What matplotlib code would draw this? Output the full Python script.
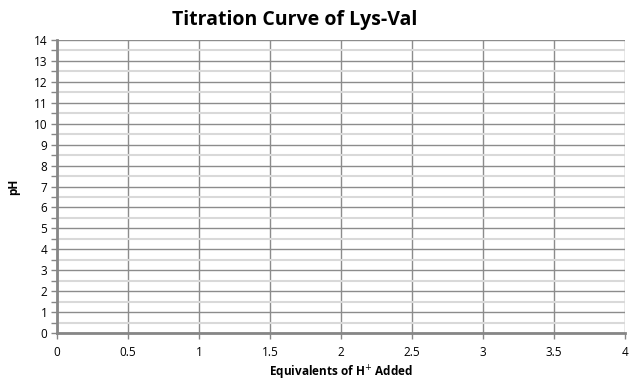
import numpy as np
import matplotlib
matplotlib.use('Agg')
import matplotlib.pyplot as plt

# Axis setup (the chart has no plotted series)
x_ticks = [0, 0.5, 1, 1.5, 2, 2.5, 3, 3.5, 4]
y_ticks = list(range(0, 15))
y_minor = [v + 0.5 for v in range(0, 14)]
x_labels = ['0', '0.5', '1', '1.5', '2', '2.5', '3', '3.5', '4']

plt.rcParams['font.family'] = ['Open Sans', 'DejaVu Sans']

fig = plt.figure(figsize=(6.39, 3.89), dpi=100)
ax = fig.add_axes([57 / 639, 56 / 389, 568 / 639, 293 / 389])

ax.set_xlim(0, 4)
ax.set_ylim(0, 14)
ax.set_xticks(x_ticks)
ax.set_xticklabels(x_labels)
ax.set_yticks(y_ticks)
ax.set_yticks(y_minor, minor=True)

# gridlines: light minor, darker major
ax.grid(which='minor', axis='y', color='#d9d9d9', linewidth=1.5)
ax.grid(which='major', axis='both', color='#8c8c8c', linewidth=1.0)
ax.set_axisbelow(True)

for s in ['top', 'right']:
    ax.spines[s].set_visible(False)
for s in ['left', 'bottom']:
    ax.spines[s].set_color('#868686')
    ax.spines[s].set_linewidth(2)

ax.tick_params(axis='both', which='major', length=4, width=1, color='#868686',
               labelsize=8.5, pad=3)
ax.tick_params(axis='y', which='minor', length=4, width=1, color='#868686')
ax.tick_params(axis='x', pad=5)

fig.text(295 / 639, 1 - 20 / 389, 'Titration Curve of Lys-Val', fontsize=14,
         fontweight='bold', ha='center', va='center')
ax.set_ylabel('pH', fontsize=8.5, fontweight='bold', labelpad=10)
ax.set_xlabel('Equivalents of H$^{+}$ Added', fontsize=8.5, fontweight='bold', labelpad=4)

fig.savefig('out.png', dpi=100)
